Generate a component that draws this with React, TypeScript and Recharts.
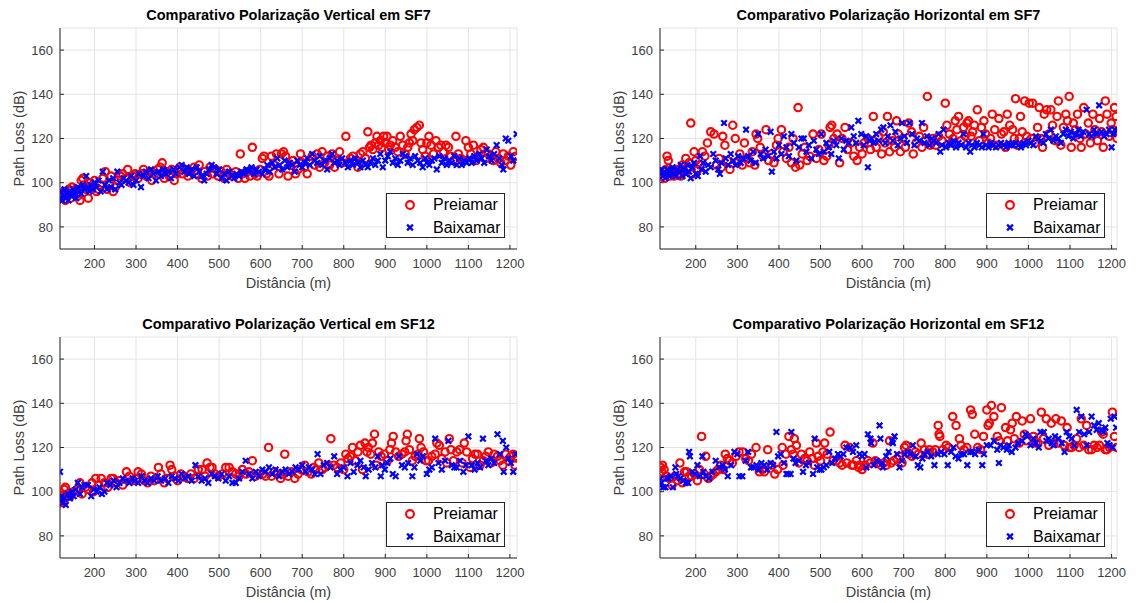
import React from 'react';
import { ScatterChart, Scatter, XAxis, YAxis, CartesianGrid, Legend, Label } from 'recharts';

type P = [number, number];

const xTicks = [200, 300, 400, 500, 600, 700, 800, 900, 1000, 1100, 1200];
const yTicks = [80, 100, 120, 140, 160];
const yDomain: [number, number] = [70, 170];
const seriesNames = ['Preiamar', 'Baixamar'];
const xLabel = 'Distância (m)';
const yLabel = 'Path Loss (dB)';
const titles = [
  'Comparativo Polarização Vertical em SF7',
  'Comparativo Polarização Horizontal em SF7',
  'Comparativo Polarização Vertical em SF12',
  'Comparativo Polarização Horizontal em SF12',
];
const xDomainVertical: [number, number] = [117, 1217];
const xDomainHorizontal: [number, number] = [114, 1213];

const sf7VerticalPreiamar: P[] = [
  [117,95],[120,93],[123,94],[126,96],[130,92],[134,95],[138,97],[142,93],[146,98],[150,95],[155,97],[160,94],[165,92],[168,101],[172,102],[176,99],[180,97],[185,93],[190,100],[195,98],[200,101],[205,96],[210,97],
  [215,99],[220,102],[226,105],[230,97],[236,100],[240,103],[245,96],[250,98],[256,101],[262,103],[268,104],[275,102],[280,106],[286,100],[292,103],[298,104],
  [305,102],[312,104],[318,106],[325,103],[332,105],[338,101],[345,104],[352,106],[358,107],[363,109],[368,102],[374,105],[380,103],[386,106],[392,101],[398,104],
  [405,107],[412,104],[418,106],[425,103],[432,105],[440,107],[446,104],[452,108],[458,102],[465,105],[472,103],[478,107],[485,104],[492,106],[498,103],
  [505,105],[512,102],[518,106],[525,104],[532,103],[540,105],[546,102],[551,113],[556,104],[562,102],[568,105],[574,103],[580,116],[586,104],[592,103],[598,106],
  [604,111],[608,112],[614,104],[620,103],[626,112],[632,108],[638,113],[644,104],[650,113],[655,114],[660,112],[666,103],[672,108],[678,110],[684,104],[690,106],[696,113],[700,109],
  [706,107],[712,104],[718,110],[724,112],[730,108],[736,113],[742,107],[748,114],[754,109],[760,112],[766,108],[772,113],[778,107],[784,110],[790,114],[796,109],
  [805,121],[810,109],[816,111],[822,112],[828,110],[834,107],[840,113],[846,114],[852,111],[858,123],[862,116],[866,117],[870,115],[876,118],[880,121],[884,117],[888,119],[892,116],[896,121],[900,118],
  [904,121],[908,115],[912,117],[918,119],[924,116],[930,114],[936,121],[942,117],[948,113],[954,116],[958,118],[962,122],[966,119],[970,124],[976,125],[982,126],[986,118],[990,115],[996,112],[1000,118],
  [1005,121],[1010,117],[1016,113],[1022,119],[1028,116],[1034,117],[1040,114],[1046,117],[1052,116],[1058,112],[1064,110],[1070,121],[1076,113],[1082,111],[1088,110],[1094,119],[1100,116],
  [1106,113],[1112,117],[1118,110],[1124,112],[1130,115],[1136,116],[1142,111],[1148,113],[1154,112],[1160,110],[1166,114],[1172,111],[1178,109],[1184,113],[1190,110],[1196,112],[1202,108],[1208,114],[1214,112],
];

const sf7VerticalBaixamar: P[] = [
  [117,93],[119,96],[122,92],[125,94],[128,97],[131,93],[134,95],[137,92],[140,96],[144,94],[148,97],[152,95],[156,93],[160,98],[164,96],[168,95],[172,99],[176,97],[180,103],[184,98],[188,96],[192,99],[196,97],[200,100],
  [205,98],[210,101],[215,96],[220,105],[225,99],[230,97],[235,101],[240,98],[245,102],[250,97],[255,105],[260,100],[265,99],[270,102],[276,101],[282,100],[288,103],[294,99],[300,101],
  [306,104],[312,98],[318,103],[324,105],[330,102],[336,106],[342,104],[348,101],[354,105],[360,103],[366,106],[372,104],[378,105],[384,102],[390,106],[396,104],
  [404,107],[410,108],[416,105],[422,107],[428,104],[434,106],[440,103],[446,107],[452,105],[458,103],[464,101],[470,104],[476,106],[482,108],[488,107],[494,104],[500,106],
  [506,102],[512,104],[518,101],[524,105],[530,103],[536,102],[542,104],[548,103],[554,105],[560,104],[566,106],[572,105],[578,107],[584,104],[590,106],[596,105],
  [604,104],[610,106],[616,108],[622,105],[628,109],[634,107],[640,111],[646,108],[652,106],[658,110],[664,107],[670,109],[676,108],[682,105],[688,110],[694,108],[700,107],
  [706,109],[712,111],[718,108],[724,113],[730,110],[736,109],[742,112],[748,108],[754,110],[760,106],[766,111],[772,113],[778,109],[784,110],[790,108],[796,111],
  [804,109],[810,107],[816,110],[822,108],[828,111],[834,109],[840,107],[846,110],[852,108],[858,107],[864,109],[870,111],[876,108],[882,110],[888,113],[894,107],[900,110],
  [906,112],[912,114],[918,109],[924,111],[930,108],[936,110],[942,113],[948,112],[954,109],[960,111],[966,108],[972,112],[978,110],[984,109],[990,107],[996,111],[1000,109],
  [1006,108],[1012,110],[1018,111],[1024,106],[1030,112],[1036,109],[1042,111],[1048,108],[1054,110],[1060,109],[1066,112],[1072,108],[1078,111],[1084,108],[1090,110],[1096,109],
  [1102,111],[1108,109],[1114,112],[1120,110],[1126,113],[1132,111],[1138,109],[1144,115],[1150,112],[1156,110],[1162,113],[1168,117],[1174,111],[1180,108],[1184,106],[1190,120],[1196,119],[1202,112],[1208,110],[1216,122],
];

const sf7HorizontalPreiamar: P[] = [
  [116,104],[119,103],[122,105],[125,102],[128,106],[131,112],[134,110],[137,103],[140,105],[144,104],[148,103],[152,106],[156,104],[160,106],[164,103],[168,108],[172,105],[176,111],[180,107],[184,109],[188,127],[192,104],[196,114],[200,110],
  [205,106],[210,108],[216,114],[222,112],[228,118],[236,123],[244,122],[250,108],[256,111],[262,107],[265,121],[270,117],[276,110],[282,106],[289,126],[295,120],[300,109],
  [306,113],[312,108],[317,118],[324,111],[330,109],[336,114],[342,108],[345,122],[349,120],[355,116],[362,112],[369,124],[375,110],[382,113],[388,109],[394,117],[398,120],
  [406,124],[410,114],[418,111],[424,116],[430,109],[434,120],[440,107],[446,134],[450,108],[456,113],[462,116],[468,110],[474,112],[482,122],[490,111],[496,115],
  [502,122],[508,110],[515,112],[520,117],[523,125],[527,126],[532,120],[540,122],[546,109],[552,120],[559,125],[565,115],[573,118],[580,112],[588,110],[594,116],
  [600,113],[605,118],[614,120],[620,115],[627,130],[634,116],[640,121],[647,113],[651,123],[655,118],[661,130],[666,114],[672,119],[678,116],[683,128],[687,122],[692,114],[698,120],
  [704,116],[712,127],[719,123],[723,113],[730,118],[738,121],[744,116],[748,125],[752,119],[757,139],[764,117],[770,120],[777,117],[784,121],[792,119],
  [800,136],[804,126],[810,122],[815,118],[819,120],[824,128],[828,124],[832,130],[838,119],[844,125],[848,121],[852,127],[856,128],[862,121],[866,123],[870,126],[877,133],[882,119],[887,125],[893,128],[897,122],
  [903,118],[909,120],[913,131],[919,124],[924,117],[929,129],[935,122],[941,123],[945,116],[949,131],[955,126],[962,124],[966,120],[969,138],[973,117],[978,120],[981,130],[985,123],[991,137],[996,121],
  [1002,136],[1007,120],[1010,136],[1016,118],[1022,125],[1026,134],[1030,120],[1034,116],[1038,131],[1044,133],[1049,122],[1054,133],[1058,126],[1064,119],[1069,130],[1072,137],[1078,117],[1084,125],[1090,131],[1094,128],[1098,139],
  [1103,116],[1108,127],[1113,124],[1118,131],[1124,120],[1127,116],[1133,134],[1138,122],[1144,127],[1149,118],[1155,131],[1160,124],[1166,119],[1171,129],[1176,123],[1180,116],[1185,137],[1189,131],[1194,121],[1199,127],[1203,124],[1207,134],[1211,130],[1213,120],
];

const sf7HorizontalBaixamar: P[] = [
  [115,104],[118,106],[121,103],[124,105],[127,102],[130,104],[133,106],[136,103],[140,105],[144,107],[148,104],[152,103],[156,106],[160,105],[164,108],[168,103],[172,106],[176,104],[180,108],[184,105],[188,102],[192,107],[196,109],[200,104],
  [205,103],[210,112],[214,106],[218,109],[224,105],[230,108],[236,107],[242,113],[248,110],[254,106],[258,104],[262,109],[268,127],[272,111],[278,108],[284,113],[290,110],[296,108],
  [302,112],[308,109],[314,111],[321,124],[326,112],[332,110],[338,114],[344,109],[350,122],[356,113],[362,111],[368,115],[374,112],[380,123],[383,105],[388,114],[394,111],
  [400,117],[406,113],[412,121],[418,116],[424,112],[430,122],[436,118],[442,110],[448,116],[454,120],[460,120],[466,114],[472,117],[478,111],[484,119],[490,115],[496,113],
  [502,122],[508,114],[514,118],[520,116],[526,113],[532,119],[538,117],[544,111],[550,120],[556,115],[562,119],[568,118],[574,125],[580,121],[586,118],[591,128],[598,122],
  [604,117],[610,121],[614,107],[618,119],[623,120],[628,118],[634,122],[640,119],[646,124],[651,125],[656,118],[662,121],[668,126],[674,119],[680,123],[686,117],[692,120],[696,127],
  [702,121],[708,118],[714,127],[720,122],[726,117],[732,120],[738,119],[744,127],[750,118],[756,121],[762,117],[768,120],[772,119],[778,118],[784,122],[788,114],[792,117],[796,124],
  [802,116],[808,118],[814,117],[820,119],[826,116],[832,118],[838,117],[844,122],[850,116],[856,118],[860,114],[864,117],[870,116],[876,118],[882,117],[888,116],[892,122],[898,117],
  [904,116],[910,118],[916,117],[922,116],[928,117],[934,118],[940,117],[946,116],[952,118],[958,117],[964,117],[970,118],[976,117],[982,116],[988,118],[994,117],
  [1000,119],[1006,118],[1012,117],[1018,121],[1024,120],[1030,119],[1036,118],[1042,122],[1048,120],[1054,124],[1060,119],[1066,121],[1072,120],[1078,118],[1084,122],[1090,124],[1096,121],
  [1102,123],[1108,120],[1114,122],[1120,124],[1126,121],[1132,123],[1140,133],[1146,122],[1152,121],[1158,124],[1164,122],[1170,135],[1176,123],[1182,121],[1188,122],[1194,124],[1200,116],[1204,122],[1208,124],[1212,123],
];

const sf12VerticalPreiamar: P[] = [
  [117,97],[119,95],[122,98],[125,96],[127,101],[130,102],[135,99],[142,98],[150,100],[158,101],[165,104],[170,99],[178,102],[185,101],[194,104],[198,100],
  [203,106],[210,103],[216,106],[224,104],[232,102],[240,106],[245,106],[252,104],[260,105],[268,103],[277,109],[284,107],[292,105],[300,106],
  [305,109],[313,108],[320,105],[328,104],[336,107],[344,105],[354,111],[360,108],[368,104],[375,106],[382,112],[386,110],[392,107],
  [400,105],[408,108],[415,107],[424,106],[432,108],[440,106],[450,110],[459,110],[466,107],[471,113],[478,111],[483,111],[490,108],[498,107],
  [508,108],[516,111],[524,111],[532,109],[540,108],[548,107],[556,110],[565,108],[572,109],[580,114],[588,107],[596,108],
  [605,108],[612,107],[619,120],[626,107],[633,109],[640,108],[648,106],[654,108],[658,117],[666,107],[674,109],[682,106],[690,108],[698,110],
  [706,112],[714,109],[722,108],[728,111],[733,110],[740,113],[748,110],[755,111],[762,112],[769,124],[776,112],[784,111],[793,113],[800,110],
  [805,117],[810,115],[816,116],[821,120],[828,114],[834,118],[840,121],[845,110],[851,122],[856,118],[859,120],[865,117],[869,122],[874,126],[878,112],[884,118],[890,116],[898,117],
  [905,114],[911,119],[915,122],[919,125],[925,118],[932,116],[940,117],[947,118],[950,123],[953,126],[958,119],[965,114],[972,116],[979,117],[982,124],[986,120],[992,118],[998,114],
  [1004,114],[1012,116],[1020,117],[1024,122],[1030,121],[1036,115],[1044,118],[1048,113],[1054,124],[1058,119],[1064,114],[1072,118],[1079,119],[1085,113],[1090,122],[1096,118],
  [1104,111],[1110,115],[1116,117],[1122,117],[1128,112],[1136,114],[1142,116],[1148,118],[1155,113],[1162,117],[1170,116],[1176,114],[1183,112],[1190,117],[1196,114],[1202,116],[1208,117],[1212,112],[1215,116],
];

const sf12VerticalBaixamar: P[] = [
  [117,109],[118,96],[121,98],[124,95],[127,97],[131,94],[136,99],[141,97],[146,100],[150,98],[155,101],[160,104],[165,99],[170,102],[176,103],[184,103],[192,98],[198,101],
  [205,100],[212,102],[218,99],[224,100],[230,104],[238,103],[246,105],[253,102],[260,104],[268,106],[276,105],[284,104],[292,106],[297,105],
  [305,104],[313,107],[320,105],[328,104],[336,106],[344,105],[352,107],[360,105],[370,106],[378,104],[386,107],[394,106],
  [402,105],[410,108],[418,106],[426,107],[434,105],[443,112],[450,107],[458,105],[466,106],[474,104],[482,108],[490,107],[498,106],
  [506,108],[516,105],[524,107],[532,104],[540,104],[548,106],[556,109],[564,114],[572,108],[580,106],[588,109],[596,107],
  [604,110],[612,109],[620,111],[628,108],[636,110],[644,107],[652,109],[660,110],[668,108],[676,109],[684,111],[692,110],
  [700,112],[708,109],[716,111],[724,110],[730,108],[737,117],[744,108],[752,112],[760,113],[768,111],[777,116],[784,108],[792,110],
  [800,111],[809,107],[816,113],[824,109],[833,112],[840,114],[848,111],[853,107],[860,110],[868,113],[876,111],[882,116],[889,107],[893,112],[899,110],
  [905,113],[912,115],[918,108],[925,107],[933,116],[940,112],[947,111],[955,113],[965,107],[970,111],[976,117],[984,114],[990,116],
  [1000,108],[1006,110],[1012,111],[1020,124],[1028,113],[1036,110],[1044,114],[1052,123],[1060,112],[1066,111],[1072,111],[1080,114],[1088,109],[1094,112],
  [1100,125],[1108,112],[1115,110],[1122,113],[1128,111],[1135,124],[1142,114],[1148,112],[1155,115],[1162,113],[1170,126],[1176,117],[1183,123],[1185,109],[1191,120],[1196,115],[1202,113],[1208,109],[1214,117],
];

const sf12HorizontalPreiamar: P[] = [
  [116,111],[118,109],[120,112],[124,110],[130,107],[136,106],[143,103],[150,107],[156,105],[162,113],[168,104],[173,109],[178,109],[184,107],[190,107],[197,108],
  [204,105],[209,110],[214,125],[220,108],[224,116],[230,106],[236,107],[242,108],[248,109],[254,110],[260,112],[266,110],[271,117],[276,115],[281,114],[288,113],[297,116],
  [304,118],[313,118],[320,115],[327,114],[334,117],[345,120],[353,109],[360,110],[365,109],[373,119],[382,112],[390,108],[397,110],
  [408,120],[410,112],[417,117],[424,125],[430,119],[434,117],[437,124],[442,121],[448,113],[454,117],[462,115],[468,114],[474,118],[480,115],[485,112],[490,122],[494,116],
  [500,114],[506,118],[510,122],[516,117],[523,127],[530,114],[539,114],[546,113],[552,112],[559,121],[563,113],[570,120],[575,112],[579,112],[586,114],[592,111],[594,112],
  [600,110],[607,112],[614,114],[620,113],[626,122],[632,114],[638,113],[645,112],[652,113],[658,112],[666,123],[670,113],[676,114],[684,115],[690,116],[696,113],
  [702,120],[706,121],[712,117],[720,116],[728,118],[735,117],[742,122],[750,119],[756,117],[762,119],[770,118],[776,119],[783,130],[785,126],[787,125],[794,119],
  [802,121],[808,120],[818,134],[826,130],[834,124],[838,121],[845,119],[852,120],[861,137],[865,135],[871,126],[878,120],[885,119],[892,125],
  [900,137],[903,130],[906,131],[911,139],[917,134],[925,125],[930,123],[935,138],[945,129],[950,123],[957,128],[961,131],[966,124],[971,134],[978,122],[985,132],[990,126],[996,123],
  [1005,133],[1012,125],[1018,122],[1023,122],[1031,136],[1036,124],[1043,133],[1049,121],[1055,131],[1061,122],[1066,133],[1073,122],[1079,132],[1086,121],[1093,129],[1099,120],
  [1104,120],[1110,121],[1116,124],[1122,120],[1127,133],[1133,121],[1140,130],[1145,119],[1152,119],[1158,121],[1165,120],[1171,121],[1176,127],[1180,126],[1185,119],[1189,119],[1195,120],[1202,136],[1207,125],[1212,120],
];

const sf12HorizontalBaixamar: P[] = [
  [114,103],[115,106],[118,104],[122,102],[127,102],[131,106],[135,106],[140,107],[145,102],[151,111],[153,108],[158,107],[163,106],[170,105],[176,104],[182,104],[184,118],[186,116],[192,109],[198,108],
  [204,112],[210,107],[216,116],[218,109],[224,107],[232,106],[240,109],[248,114],[256,111],[265,112],[270,110],[277,107],[285,112],[293,118],
  [300,117],[305,107],[312,107],[320,114],[326,118],[333,111],[339,111],[346,112],[352,110],[358,113],[365,112],[372,110],[380,113],[386,112],[394,127],[398,116],
  [404,117],[412,113],[418,108],[422,108],[428,108],[430,127],[435,115],[440,113],[448,114],[458,109],[465,112],[472,113],[482,108],[486,124],[492,111],[498,110],
  [502,110],[508,111],[514,112],[521,118],[528,113],[535,115],[542,117],[548,116],[555,117],[562,120],[571,120],[578,118],[586,121],[594,117],
  [600,116],[606,117],[610,111],[614,126],[620,124],[622,122],[628,112],[635,114],[642,130],[644,124],[648,113],[650,111],[658,116],[664,118],[672,123],[674,122],[678,125],[684,117],[690,111],[696,114],
  [702,117],[710,118],[716,117],[722,121],[728,116],[734,112],[740,111],[745,115],[750,117],[758,118],[766,116],[774,112],[782,117],[790,118],[798,117],
  [806,112],[814,118],[820,120],[825,116],[832,115],[838,117],[845,117],[853,112],[860,118],[865,118],[872,117],[880,119],[889,112],[893,117],
  [900,121],[909,121],[917,123],[925,119],[929,113],[933,121],[940,120],[948,119],[953,121],[960,118],[969,120],[975,122],[985,123],[993,126],[997,125],
  [1005,121],[1012,124],[1018,122],[1025,120],[1029,127],[1037,127],[1043,123],[1049,124],[1056,122],[1061,121],[1064,125],[1072,124],[1080,122],[1087,118],[1092,127],[1098,125],
  [1104,124],[1110,121],[1116,137],[1122,127],[1127,134],[1134,126],[1140,121],[1146,127],[1152,134],[1158,130],[1164,128],[1169,131],[1176,128],[1180,127],[1185,129],[1190,122],[1195,121],[1198,133],[1203,120],[1207,134],[1211,129],
];

const FONT = '"Liberation Sans", Arial, Helvetica, sans-serif';
const AX = '#262626';
const TICK = '#404040';
const GRID = '#e3e3e3';
const RED = '#ff0000';
const BLUE = '#0000ff';

const toObjs = (pts: P[]) => pts.map(([x, y]) => ({ x, y }));

const CircleMark = (props: any) => {
  const { cx, cy } = props;
  if (cx == null || cy == null) return null;
  return <circle cx={cx} cy={cy} r={3.7} fill="none" stroke={RED} strokeWidth={2.1} />;
};

const CrossMark = (props: any) => {
  const { cx, cy } = props;
  if (cx == null || cy == null) return null;
  const d = 2.8;
  return (
    <g stroke={BLUE} strokeWidth={2.2}>
      <line x1={cx - d} y1={cy - d} x2={cx + d} y2={cy + d} />
      <line x1={cx - d} y1={cy + d} x2={cx + d} y2={cy - d} />
    </g>
  );
};

const LegendBox = () => (
  <div
    style={{
      width: 119,
      height: 45,
      boxSizing: 'border-box',
      border: `1px solid ${AX}`,
      background: '#fff',
      fontFamily: FONT,
      fontSize: 16,
      color: '#000',
      position: 'relative',
    }}
  >
    <svg width={117} height={43} style={{ position: 'absolute', left: 0, top: 0 }}>
      <circle cx={23} cy={11} r={3.9} fill="none" stroke={RED} strokeWidth={2.1} />
      <g stroke={BLUE} strokeWidth={2.2}>
        <line x1={20.1} y1={30.6} x2={25.9} y2={36.4} />
        <line x1={20.1} y1={36.4} x2={25.9} y2={30.6} />
      </g>
    </svg>
    <div style={{ position: 'absolute', left: 46, top: 1, lineHeight: '20px', whiteSpace: 'nowrap' }}>{seriesNames[0]}</div>
    <div style={{ position: 'absolute', left: 46, top: 23.5, lineHeight: '20px', whiteSpace: 'nowrap' }}>{seriesNames[1]}</div>
  </div>
);

type PanelProps = {
  left: number;
  top: number;
  width: number;
  height: number;
  box: { x0: number; y0: number; x1: number; y1: number };
  title: string;
  xDomain: [number, number];
  pre: P[];
  bai: P[];
};

const Panel = ({ left, top, width, height, box, title, xDomain, pre, bai }: PanelProps) => {
  const yAxisW = 60;
  const xAxisH = 30;
  const margin = {
    top: box.y0 - top,
    right: left + width - box.x1,
    bottom: top + height - box.y1 - xAxisH,
    left: box.x0 - left - yAxisW,
  };
  const plotW = box.x1 - box.x0;
  const plotH = box.y1 - box.y0;
  const tickStyle = { fill: TICK, fontSize: 13, fontFamily: FONT };
  return (
    <div style={{ position: 'absolute', left, top, width, height }}>
      <div
        style={{
          position: 'absolute',
          left: box.x0 - left,
          width: plotW,
          top: box.y0 - top - 23,
          height: 20,
          lineHeight: '20px',
          textAlign: 'center',
          fontFamily: FONT,
          fontWeight: 'bold',
          fontSize: 14.5,
          color: '#000',
          whiteSpace: 'nowrap',
        }}
      >
        {title}
      </div>
      <ScatterChart width={width} height={height} margin={margin}>
        <CartesianGrid stroke={GRID} strokeWidth={1} />
        <Scatter name={seriesNames[0]} data={toObjs(pre)} dataKey="y" shape={CircleMark} isAnimationActive={false} />
        <Scatter name={seriesNames[1]} data={toObjs(bai)} dataKey="y" shape={CrossMark} isAnimationActive={false} />
        <XAxis
          dataKey="x"
          type="number"
          domain={xDomain}
          allowDataOverflow
          ticks={xTicks}
          interval={0}
          height={xAxisH}
          tickSize={-4}
          tickMargin={14}
          stroke={AX}
          tick={tickStyle}
        >
          <Label
            content={(p: any) => {
              const vb = p.viewBox || {};
              return (
                <text
                  x={(vb.x ?? box.x0 - left) + (vb.width ?? plotW) / 2}
                  y={box.y1 - top + 34}
                  dy="0.35em"
                  textAnchor="middle"
                  fill={TICK}
                  fontFamily={FONT}
                  fontSize={14.5}
                >
                  {xLabel}
                </text>
              );
            }}
          />
        </XAxis>
        <YAxis
          dataKey="y"
          type="number"
          domain={yDomain}
          allowDataOverflow
          ticks={yTicks}
          interval={0}
          width={yAxisW}
          tickSize={-4}
          tickMargin={11}
          stroke={AX}
          tick={tickStyle}
        >
          <Label
            content={() => {
              const cx = box.x0 - left - 41;
              const cy = box.y0 - top + plotH / 2;
              return (
                <text
                  x={cx}
                  y={cy}
                  dy="0.35em"
                  textAnchor="middle"
                  transform={`rotate(-90 ${cx} ${cy})`}
                  fill={TICK}
                  fontFamily={FONT}
                  fontSize={14.5}
                >
                  {yLabel}
                </text>
              );
            }}
          />
        </YAxis>
        <XAxis
          xAxisId="top"
          orientation="top"
          type="number"
          domain={xDomain}
          allowDataOverflow
          ticks={xTicks}
          interval={0}
          height={0}
          tickSize={-4}
          tick={false}
          stroke={AX}
        />
        <YAxis
          yAxisId="right"
          orientation="right"
          type="number"
          domain={yDomain}
          allowDataOverflow
          ticks={yTicks}
          interval={0}
          width={0}
          tickSize={-4}
          tick={false}
          stroke={AX}
        />
        <Legend
          layout="vertical"
          verticalAlign="middle"
          align="center"
          content={() => <LegendBox />}
          wrapperStyle={{ left: box.x1 - left - 131, top: box.y1 - top - 56, width: 119, height: 45 }}
        />
      </ScatterChart>
    </div>
  );
};

export default function App() {
  return (
    <div style={{ position: 'absolute', left: 0, top: 0, width: 1136, height: 603, background: '#fff', overflow: 'hidden' }}>
      <Panel left={0} top={0} width={568} height={300} box={{ x0: 60, y0: 28, x1: 517, y1: 249 }} title={titles[0]} xDomain={xDomainVertical} pre={sf7VerticalPreiamar} bai={sf7VerticalBaixamar} />
      <Panel left={568} top={0} width={568} height={300} box={{ x0: 660, y0: 28, x1: 1117, y1: 249 }} title={titles[1]} xDomain={xDomainHorizontal} pre={sf7HorizontalPreiamar} bai={sf7HorizontalBaixamar} />
      <Panel left={0} top={300} width={568} height={303} box={{ x0: 60, y0: 337, x1: 517, y1: 558 }} title={titles[2]} xDomain={xDomainVertical} pre={sf12VerticalPreiamar} bai={sf12VerticalBaixamar} />
      <Panel left={568} top={300} width={568} height={303} box={{ x0: 660, y0: 337, x1: 1117, y1: 558 }} title={titles[3]} xDomain={xDomainHorizontal} pre={sf12HorizontalPreiamar} bai={sf12HorizontalBaixamar} />
    </div>
  );
}
